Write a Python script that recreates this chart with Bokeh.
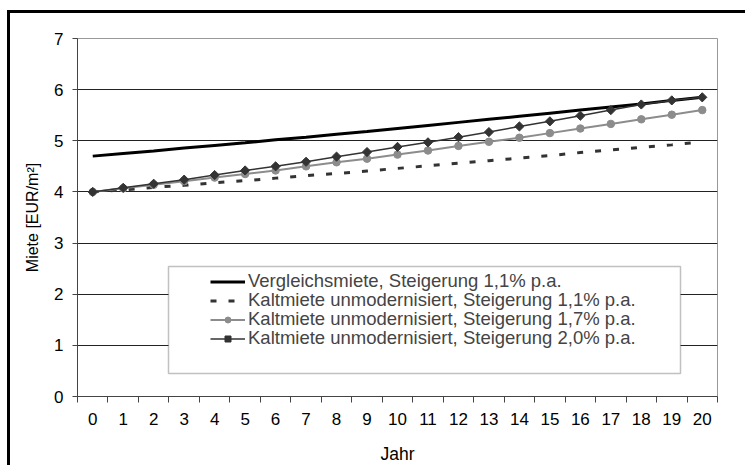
import math
from bokeh.plotting import figure
from bokeh.models import (Range1d, FixedTicker, Legend, LegendItem, BoxAnnotation)
from bokeh.embed import file_html
from bokeh.resources import INLINE

years = list(range(21))
vergleich = [4.70, 4.75, 4.80, 4.86, 4.91, 4.96, 5.02, 5.07, 5.13, 5.18, 5.24,
             5.30, 5.36, 5.42, 5.48, 5.54, 5.60, 5.66, 5.72, 5.79, 5.85]
kalt_11 = [4.00, 4.04, 4.09, 4.13, 4.18, 4.22, 4.27, 4.32, 4.36, 4.41, 4.46,
           4.51, 4.56, 4.61, 4.66, 4.71, 4.77, 4.82, 4.87, 4.92, 4.98]
kalt_17 = [4.00, 4.07, 4.14, 4.21, 4.28, 4.35, 4.42, 4.50, 4.58, 4.65, 4.73,
           4.81, 4.90, 4.98, 5.06, 5.15, 5.24, 5.33, 5.42, 5.51, 5.60]
kalt_20 = [4.00, 4.08, 4.16, 4.24, 4.33, 4.42, 4.50, 4.59, 4.69, 4.78, 4.88,
           4.97, 5.07, 5.17, 5.28, 5.38, 5.49, 5.60, 5.71, 5.79, 5.85]
labels = ["Vergleichsmiete, Steigerung 1,1% p.a.",
          "Kaltmiete unmodernisiert, Steigerung 1,1% p.a.",
          "Kaltmiete unmodernisiert, Steigerung 1,7% p.a.",
          "Kaltmiete unmodernisiert, Steigerung 2,0% p.a."]
y_ticks = list(range(8))

FONT = "Liberation Sans"

p = figure(width=738, height=455, output_backend="svg", toolbar_location=None,
           x_range=Range1d(-0.5, 20.5), y_range=Range1d(0, 7),
           min_border_left=67, min_border_right=31, min_border_top=25,
           min_border_bottom=72)
p.styles = {"border-left": "3px solid black", "border-top": "3px solid black",
            "margin-left": "7px", "margin-top": "10px"}

p.outline_line_color = "#999999"
p.xgrid.visible = False
p.ygrid.grid_line_color = "#222222"
p.ygrid.grid_line_width = 1

xa = p.xaxis[0]
xa.ticker = FixedTicker(ticks=years, minor_ticks=[i - 0.5 for i in range(22)])
xa.major_tick_out = 0
xa.major_tick_in = 0
xa.minor_tick_out = 6
xa.minor_tick_in = 0
xa.minor_tick_line_color = "#444444"
xa.axis_line_color = "#444444"
xa.major_label_standoff = 10
xa.axis_label = "Jahr"
xa.axis_label_standoff = 16
xa.axis_label_text_font_size = "17.5px"

ya = p.yaxis[0]
ya.ticker = FixedTicker(ticks=y_ticks)
ya.major_tick_out = 5
ya.major_tick_in = 0
ya.minor_tick_out = 0
ya.minor_tick_in = 0
ya.major_tick_line_color = "#444444"
ya.axis_line_color = "#444444"
ya.major_label_standoff = 9
ya.axis_label = "Miete [EUR/m²]"
ya.axis_label_standoff = 10
ya.axis_label_text_font_size = "16px"

for ax in (xa, ya):
    ax.major_label_text_font = FONT
    ax.major_label_text_font_size = "17px"
    ax.major_label_text_color = "black"
    ax.axis_label_text_font = FONT
    ax.axis_label_text_font_style = "normal"
    ax.axis_label_text_color = "black"

r1 = p.line(years, vergleich, line_color="black", line_width=3)
r2 = p.line(years, kalt_11, line_color="#333333", line_width=3, line_dash="6 12")
r3l = p.line(years, kalt_17, line_color="#8c8c8c", line_width=2)
r3m = p.scatter(years, kalt_17, marker="circle", size=7.5, fill_color="#8c8c8c",
                line_color="#8c8c8c")
r4l = p.line(years, kalt_20, line_color="#333333", line_width=1.5)
r4m = p.scatter(years, kalt_20, marker="square", angle=math.pi / 4, size=6.5,
                fill_color="#333333", line_color="#333333")

box = BoxAnnotation(left=91, right=603, bottom=23, top=130,
                    left_units="screen", right_units="screen",
                    bottom_units="screen", top_units="screen",
                    fill_color="white", fill_alpha=1.0,
                    line_color="#333333", line_width=1.5)
p.add_layout(box)

entries = [(labels[0], [r1]), (labels[1], [r2]),
           (labels[2], [r3l, r3m]), (labels[3], [r4l, r4m])]
row_y = [104, 85, 66, 47]
for (lab, rends), vy in zip(entries, row_y):
    lg = Legend(items=[LegendItem(label=lab, renderers=rends)],
                location=(133, vy), padding=0, spacing=0,
                glyph_width=35, glyph_height=15, label_height=15,
                label_standoff=3,
                label_text_font=FONT, label_text_font_size="18.5px",
                border_line_alpha=0, background_fill_alpha=0)
    p.add_layout(lg, "center")

open("out.html", "w").write(file_html(p, INLINE))
